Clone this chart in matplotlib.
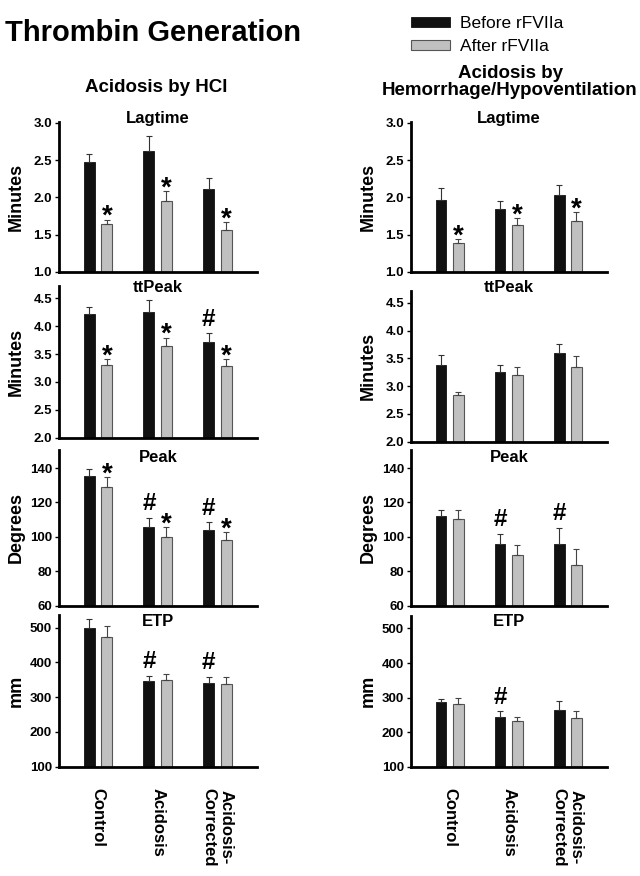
import numpy as np
import matplotlib
matplotlib.use("Agg")
import matplotlib.pyplot as plt
from matplotlib.patches import Patch

plt.rcParams['font.family'] = ['Liberation Sans', 'DejaVu Sans']
plt.rcParams['font.weight'] = 'bold'
plt.rcParams['axes.labelweight'] = 'bold'

GROUPS = ["Control", "Acidosis", "Acidosis-\nCorrected"]
PANELS = ["Lagtime", "ttPeak", "Peak", "ETP"]
YLABELS = ["Minutes", "Minutes", "Degrees", "mm"]
YTICKS = [[1.0, 1.5, 2.0, 2.5, 3.0],
          [2.0, 2.5, 3.0, 3.5, 4.0, 4.5],
          [60, 80, 100, 120, 140],
          [100, 200, 300, 400, 500]]
YTICKLABELS = [["1.0", "1.5", "2.0", "2.5", "3.0"],
               ["2.0", "2.5", "3.0", "3.5", "4.0", "4.5"],
               ["60", "80", "100", "120", "140"],
               ["100", "200", "300", "400", "500"]]
YLIMS = [(1.0, 3.01), (2.0, 4.72), (60, 150.5), (100, 536)]

# Acidosis by HCl
hcl_before = [[2.47, 2.62, 2.11], [4.21, 4.25, 3.71], [135.1, 106.0, 104.1], [498, 346, 341]]
hcl_before_err = [[0.11, 0.20, 0.15], [0.13, 0.22, 0.16], [4.1, 5.1, 4.4], [27, 15, 18]]
hcl_after = [[1.64, 1.95, 1.56], [3.30, 3.65, 3.28], [128.9, 99.8, 98.1], [474, 348, 338]]
hcl_after_err = [[0.06, 0.13, 0.11], [0.11, 0.14, 0.13], [5.7, 5.8, 4.6], [29, 17, 19]]
hcl_before_sig = [["", "", ""], ["", "", "#"], ["", "#", "#"], ["", "#", "#"]]
hcl_after_sig = [["*", "*", "*"], ["*", "*", "*"], ["*", "*", "*"], ["", "", ""]]

# Acidosis by Hemorrhage/Hypoventilation
hem_before = [[1.97, 1.85, 2.03], [3.38, 3.26, 3.60], [112.4, 96.1, 95.7], [287, 245, 264]]
hem_before_err = [[0.15, 0.10, 0.14], [0.18, 0.12, 0.16], [3.4, 5.8, 9.5], [8, 15, 26]]
hem_after = [[1.39, 1.63, 1.68], [2.84, 3.20, 3.35], [110.4, 89.2, 83.4], [282, 232, 242]]
hem_after_err = [[0.05, 0.09, 0.12], [0.06, 0.15, 0.19], [5.3, 5.8, 9.8], [17, 11, 20]]
hem_before_sig = [["", "", ""], ["", "", ""], ["", "#", "#"], ["", "#", ""]]
hem_after_sig = [["*", "*", "*"], ["", "", ""], ["", "", ""], ["", "", ""]]

W, H = 640, 876
fig = plt.figure(figsize=(W / 100, H / 100), dpi=100)

def px_rect(x0, x1, top, bottom):
    return [x0 / W, 1 - bottom / H, (x1 - x0) / W, (bottom - top) / H]

# axes extents in pixels (top, bottom) per row
left_rows = [(122, 272), (286, 437.7), (450, 605.7), (615, 766.7)]
right_rows = [(122, 272), (290.7, 441.7), (450, 605.7), (616, 766.7)]
title_y = [118, 287, 457, 621]

BLACK = "#111111"
GRAY = "#c0c0c0"
OFF = 0.147
BW = 0.185
SIG_SIZE = {"*": 20, "#": 17.5}
SIG_OFFSET = {"*": -3.0, "#": 5.5}

def draw_column(x0, x1, rows, before, before_err, after, after_err, bsig, asig):
    x = np.arange(len(GROUPS))
    for i, (top, bottom) in enumerate(rows):
        ax = fig.add_axes(px_rect(x0, x1, top, bottom))
        ax.bar(x - OFF, before[i], width=BW, color=BLACK, edgecolor=BLACK, lw=0.6, zorder=2)
        ax.bar(x + OFF, after[i], width=BW, color=GRAY, edgecolor="#555555", lw=0.8, zorder=2)
        ax.errorbar(x - OFF, before[i], yerr=[np.zeros(3), before_err[i]], fmt='none',
                    ecolor="#333333", elinewidth=0.8, capsize=2.5, capthick=0.8, zorder=3)
        ax.errorbar(x + OFF, after[i], yerr=[np.zeros(3), after_err[i]], fmt='none',
                    ecolor="#444444", elinewidth=0.8, capsize=2.5, capthick=0.8, zorder=3)
        for j in range(len(GROUPS)):
            for xp, v, e, s in [(x[j] - OFF, before[i][j], before_err[i][j], bsig[i][j]),
                                (x[j] + OFF, after[i][j], after_err[i][j], asig[i][j])]:
                if s:
                    ax.annotate(s, (xp, v + e), xytext=(0, SIG_OFFSET[s]), textcoords='offset points',
                                ha='center', va='baseline', fontsize=SIG_SIZE[s], fontweight='bold')
        ax.set_xlim(-0.655, 2.665)
        ax.set_ylim(*YLIMS[i])
        ax.set_yticks(YTICKS[i], YTICKLABELS[i])
        ax.tick_params(axis='y', direction='out', length=3, width=1, labelsize=9.5, pad=2)
        for sp in ["top", "right"]:
            ax.spines[sp].set_visible(False)
        for sp in ["left", "bottom"]:
            ax.spines[sp].set_linewidth(2.0)
        ax.set_ylabel(YLABELS[i], fontsize=13, fontweight='bold', va='center')
        ax.yaxis.set_label_coords(-43 / (x1 - x0), 0.5)
        ty = (bottom - title_y[i]) / (bottom - top)
        ax.text(0.5, ty, PANELS[i], transform=ax.transAxes, ha='center', va='center', fontsize=12)
        if i == len(rows) - 1:
            ax.set_xticks(x, GROUPS, rotation=-90, va='top', ha='center', fontsize=12)
            ax.tick_params(axis='x', length=0, pad=15)
        else:
            ax.set_xticks([])

draw_column(59, 257, left_rows, hcl_before, hcl_before_err, hcl_after, hcl_after_err,
            hcl_before_sig, hcl_after_sig)
draw_column(411, 607, right_rows, hem_before, hem_before_err, hem_after, hem_after_err,
            hem_before_sig, hem_after_sig)

fig.text(5 / W, 1 - 41 / H, "Thrombin Generation", fontsize=21, ha='left', va='baseline')
fig.text(156 / W, 1 - 87 / H, "Acidosis by HCl", fontsize=13.5, ha='center', va='center')
fig.text(510 / W, 1 - 82 / H, "Acidosis by\nHemorrhage/Hypoventilation", fontsize=13.5,
         ha='center', va='center', linespacing=1.05)

handles = [Patch(facecolor=BLACK, edgecolor=BLACK, lw=0.6),
           Patch(facecolor=GRAY, edgecolor="#555555", lw=0.8)]
fig.legend(handles, ["Before rFVIIa", "After rFVIIa"], loc='upper left',
           bbox_to_anchor=(411 / W, 1 - 16 / H), frameon=False, borderpad=0, borderaxespad=0,
           handlelength=2.25, handleheight=0.5, handletextpad=0.55, labelspacing=0.45,
           prop={'weight': 'normal', 'size': 12.5})

fig.savefig("out.png", dpi=100)
